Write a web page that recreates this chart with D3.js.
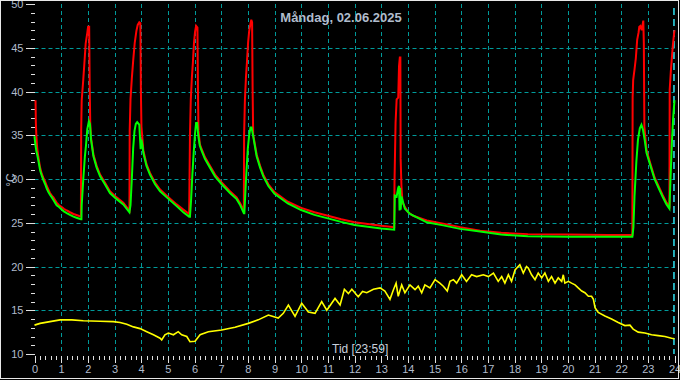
<!DOCTYPE html>
<html><head><meta charset="utf-8">
<script src="https://cdn.jsdelivr.net/npm/d3@7"></script>
<style>
html,body{margin:0;padding:0;background:#000;}
svg{display:block;}
text{font-family:"Liberation Sans",Arial,sans-serif;}
</style></head>
<body>
<svg id="chart" width="680" height="380"></svg>
<script>
// ---- data ----
const titleText = "Måndag, 02.06.2025";
const xAxisTitle = "Tid [23:59]";
const yAxisTitle = "°C";
const hourTicks = d3.range(0, 25);           // 0..24
const tempTicks = [10, 15, 20, 25, 30, 35, 40, 45, 50];
const cursorHour = 23.98;

const redSeries = [
 [0,38.9],[0.04,38.9],[0.05,36.5],[0.07,34.9],[0.1,33.6],[0.14,32.6],[0.21,31.3],[0.27,30.6],[0.33,30.15],[0.4,29.7],[0.46,29.2],[0.52,28.8],[0.58,28.4],[0.65,28.1],[0.71,27.9],[0.77,27.6],[0.83,27.3],[0.92,27.0],[1.02,26.8],[1.1,26.6],[1.21,26.4],[1.33,26.2],[1.46,26.0],[1.6,25.85],[1.74,25.7],
 [1.75,35.5],[1.77,39.0],[1.83,41.4],[1.87,43.2],[1.92,45.5],[1.98,46.7],[2.01,47.4],[2.05,47.4],[2.07,40.5],[2.09,36.4],[2.12,34.7],[2.21,32.8],[2.33,31.5],[2.46,30.5],[2.64,29.6],[2.83,28.6],[3.08,27.9],[3.33,27.3],[3.56,26.4],
 [3.57,35.5],[3.6,39.1],[3.65,41.5],[3.7,43.5],[3.76,45.6],[3.82,46.9],[3.87,47.6],[3.93,47.9],[3.97,47.8],[3.99,40.0],[4.01,36.0],[4.08,33.3],[4.2,31.7],[4.33,30.7],[4.52,29.6],[4.71,28.8],[4.96,28.1],[5.33,27.1],[5.58,26.5],[5.8,26.0],
 [5.83,35.0],[5.86,39.0],[5.9,41.5],[5.94,43.3],[5.98,45.5],[6.02,46.8],[6.06,47.5],[6.11,47.3],[6.13,40.0],[6.15,35.5],[6.2,34.0],[6.27,33.4],[6.39,32.5],[6.58,31.5],[6.77,30.5],[7.02,29.6],[7.33,28.6],[7.58,27.9],[7.7,27.3],[7.85,26.4],
 [7.86,35.0],[7.89,39.0],[7.93,41.6],[7.97,43.5],[8.01,45.6],[8.05,46.9],[8.09,47.6],[8.13,48.2],[8.16,47.9],[8.18,40.0],[8.2,35.1],[8.33,32.8],[8.46,31.5],[8.58,30.5],[8.77,29.4],[9.0,28.5],[9.5,27.4],[10.0,26.7],[10.5,26.2],[11.0,25.8],[11.5,25.4],[12.0,25.05],[12.5,24.85],[13.0,24.65],[13.49,24.5],
 [13.5,29.6],[13.54,36.4],[13.58,39.1],[13.64,39.3],[13.67,42.9],[13.7,43.9],[13.72,43.9],[13.73,32.3],[13.76,29.2],[13.8,27.3],[13.89,26.8],[14.01,26.2],[14.2,25.8],[14.71,25.25],[15.33,24.9],[15.96,24.5],[16.71,24.1],[17.5,23.85],[18.5,23.7],[20.0,23.65],[21.5,23.6],[22.42,23.6],
 [22.43,39.3],[22.45,41.3],[22.5,42.5],[22.55,43.8],[22.6,45.9],[22.65,46.7],[22.68,47.4],[22.72,47.5],[22.77,47.0],[22.83,48.1],[22.85,45.5],[22.87,36.0],[22.95,33.3],[23.1,31.7],[23.25,30.2],[23.4,29.2],[23.55,28.2],[23.7,27.3],[23.81,26.9],
 [23.82,40.2],[23.86,42.2],[23.9,43.8],[23.94,45.3],[23.97,46.2],[24.0,47.0]
];

const greenSeries = [
 [0,34.9],[0.03,34.0],[0.07,33.2],[0.1,32.8],[0.14,32.2],[0.21,31.0],[0.27,30.4],[0.33,29.9],[0.4,29.4],[0.46,28.9],[0.52,28.5],[0.58,28.2],[0.65,27.9],[0.71,27.6],[0.77,27.3],[0.83,27.0],[0.92,26.8],[1.02,26.5],[1.1,26.3],[1.21,26.1],[1.33,25.9],[1.46,25.7],[1.6,25.55],[1.74,25.4],
 [1.76,25.4],[1.77,27.0],[1.83,30.0],[1.89,32.6],[1.93,33.8],[1.98,35.7],[2.04,36.6],[2.08,36.3],[2.12,34.5],[2.21,32.6],[2.33,31.3],[2.46,30.3],[2.64,29.4],[2.83,28.4],[3.08,27.7],[3.33,27.1],[3.56,26.2],
 [3.6,27.0],[3.65,30.0],[3.7,33.5],[3.75,35.5],[3.8,36.3],[3.85,36.5],[3.93,36.2],[3.96,34.5],[3.98,33.4],[4.01,34.5],[4.05,33.8],[4.08,33.0],[4.2,31.5],[4.33,30.5],[4.52,29.4],[4.71,28.6],[4.96,27.9],[5.33,26.9],[5.58,26.2],[5.8,25.7],
 [5.83,25.7],[5.87,27.5],[5.92,30.5],[5.97,33.0],[6.02,35.2],[6.06,36.4],[6.1,36.4],[6.14,35.0],[6.2,33.8],[6.27,33.2],[6.39,32.3],[6.58,31.3],[6.77,30.3],[7.02,29.4],[7.33,28.4],[7.58,27.7],[7.7,27.1],[7.85,26.1],
 [7.87,26.1],[7.9,28.0],[7.95,31.0],[8.0,33.5],[8.05,35.0],[8.1,35.9],[8.14,35.9],[8.2,34.9],[8.33,32.6],[8.46,31.3],[8.58,30.3],[8.77,29.2],[9.0,28.3],[9.5,27.2],[10.0,26.45],[10.5,25.9],[11.0,25.5],[11.5,25.1],[12.0,24.75],[12.5,24.55],[13.0,24.35],[13.49,24.2],
 [13.51,28.1],[13.58,28.0],[13.64,29.0],[13.67,29.2],[13.69,26.4],[13.71,29.0],[13.73,26.5],[13.76,28.0],[13.89,26.6],[14.08,26.0],[14.71,25.05],[15.33,24.7],[15.96,24.3],[16.71,24.0],[17.5,23.65],[18.5,23.45],[20.0,23.4],[21.5,23.4],[22.42,23.4],
 [22.46,24.5],[22.5,28.0],[22.57,32.0],[22.63,34.5],[22.7,35.8],[22.76,36.2],[22.82,35.6],[22.88,34.5],[22.95,33.0],[23.1,31.5],[23.25,30.0],[23.4,29.0],[23.55,28.0],[23.7,27.1],[23.81,26.6],
 [23.85,30.0],[23.9,34.0],[23.95,37.0],[24.0,39.0]
];

const yellowSeries = [
 [0,13.3],[0.21,13.5],[0.58,13.7],[0.96,13.9],[1.4,13.9],[1.83,13.8],[2.46,13.75],[2.96,13.7],[3.21,13.6],[3.46,13.4],[3.71,13.1],[3.96,12.9],[4.21,12.55],[4.46,12.2],[4.71,11.8],[4.77,11.6],[4.89,12.2],[5.02,12.4],[5.21,12.2],[5.39,12.55],[5.52,12.2],[5.71,12.0],[5.83,11.4],[6.02,11.45],[6.21,12.2],[6.52,12.55],[7.02,12.75],[7.52,13.05],[8.02,13.5],[8.39,13.9],[8.77,14.45],[9.14,14.1],[9.33,14.65],[9.52,15.6],[9.77,14.3],[10.02,15.8],[10.27,14.8],[10.52,14.65],[10.77,16.0],[10.96,15.0],[11.27,16.35],[11.46,15.6],[11.62,17.4],[11.77,16.9],[11.9,17.4],[12.14,16.55],[12.3,17.15],[12.46,17.0],[12.71,17.4],[12.96,17.55],[13.14,17.2],[13.33,16.25],[13.46,17.35],[13.56,18.1],[13.64,16.6],[13.77,17.9],[13.89,17.0],[14.08,17.9],[14.27,17.35],[14.39,17.75],[14.52,17.0],[14.64,17.9],[14.83,17.55],[15.02,18.5],[15.2,18.1],[15.33,17.75],[15.48,17.2],[15.58,18.3],[15.71,18.5],[15.83,18.1],[16.02,19.05],[16.2,18.3],[16.39,19.05],[16.58,18.85],[16.83,19.05],[17.02,18.85],[17.21,19.25],[17.39,18.3],[17.52,18.85],[17.64,18.1],[17.77,19.05],[17.89,18.3],[18.02,19.6],[18.2,20.2],[18.33,19.25],[18.45,20.0],[18.52,19.8],[18.64,19.05],[18.77,18.5],[18.89,19.25],[19.02,18.7],[19.14,19.25],[19.27,18.3],[19.39,18.85],[19.52,18.1],[19.64,18.7],[19.77,18.3],[19.83,19.05],[19.89,18.1],[20.02,18.3],[20.14,18.1],[20.27,17.9],[20.39,17.55],[20.52,17.2],[20.64,17.0],[20.77,16.6],[20.89,16.6],[20.96,16.25],[21.02,15.3],[21.14,14.75],[21.39,14.35],[21.64,14.0],[21.89,13.6],[22.14,13.25],[22.33,13.3],[22.45,12.85],[22.64,12.5],[22.89,12.4],[23.14,12.2],[23.39,12.1],[23.64,12.0],[23.89,11.8],[24.0,11.75]
];

// ---- drawing ----
const W = 680, H = 380;
const svg = d3.select("#chart");
const x = d3.scaleLinear().domain([0, 24]).range([34.5, 674.5]);
const y = d3.scaleLinear().domain([10, 50]).range([354, 4]);
const textColor = "#b0bccc";
const gridColor = "#009a9a";

svg.append("rect").attr("width", W).attr("height", H).attr("fill", "#000");

// grid
const grid = svg.append("g");
grid.selectAll("line.h").data(tempTicks.filter(t => t > 10 && t < 50)).join("line")
  .attr("x1", x(0)).attr("x2", x(24))
  .attr("y1", d => Math.round(y(d)) + 0.5).attr("y2", d => Math.round(y(d)) + 0.5)
  .attr("stroke", gridColor).attr("stroke-width", 1).attr("stroke-dasharray", "4,3");
grid.selectAll("line.v").data(hourTicks.filter(h => h > 0 && h < 24)).join("line")
  .attr("y1", y(50)).attr("y2", y(10))
  .attr("x1", d => Math.round(x(d)) + 0.5).attr("x2", d => Math.round(x(d)) + 0.5)
  .attr("stroke", gridColor).attr("stroke-width", 1).attr("stroke-dasharray", "4,3");

// cursor line at 23:59
svg.append("line")
  .attr("x1", x(cursorHour)).attr("x2", x(cursorHour))
  .attr("y1", y(50) + 4).attr("y2", y(10))
  .attr("stroke", "#30e0f0").attr("stroke-width", 1.5).attr("stroke-dasharray", "7,4");

// axes
const yMajor = d3.axisLeft(y).tickValues(tempTicks).tickSize(9).tickPadding(2).tickFormat(d3.format("d"));
const yMinor = d3.axisLeft(y).tickValues(d3.range(10, 51, 1).filter(v => v % 5 !== 0)).tickSize(4).tickFormat("");
const xMajor = d3.axisBottom(x).tickValues(hourTicks).tickSize(7).tickPadding(3).tickFormat(d3.format("d"));
const xMinor = d3.axisBottom(x).tickValues(d3.range(0, 120).map(i => i / 5).filter((v, i) => i % 5 !== 0)).tickSize(4).tickFormat("");

function styleAxis(g) {
  g.select(".domain").remove();
  g.selectAll(".tick line").attr("stroke", "#e0e0e0").attr("shape-rendering", "crispEdges");
  g.selectAll(".tick text").attr("fill", textColor).attr("font-size", 11)
    .attr("font-family", "'Liberation Sans',Arial,sans-serif");
}
svg.append("g").attr("transform", "translate(34.5,0)").call(yMinor).call(styleAxis);
svg.append("g").attr("transform", "translate(34.5,0)").call(yMajor).call(styleAxis);
svg.append("g").attr("transform", "translate(0,355.5)").call(xMinor).call(styleAxis);
svg.append("g").attr("transform", "translate(0,355.5)").call(xMajor).call(styleAxis);

// series
const line = d3.line().x(d => x(d[0])).y(d => y(d[1]));
svg.append("path").datum(redSeries).attr("d", line)
  .attr("fill", "none").attr("stroke", "#ff0000").attr("stroke-width", 2).attr("stroke-linejoin", "miter");
svg.append("path").datum(greenSeries).attr("d", line)
  .attr("fill", "none").attr("stroke", "#00ff00").attr("stroke-width", 2);
svg.append("path").datum(yellowSeries).attr("d", line)
  .attr("fill", "none").attr("stroke", "#ffff00").attr("stroke-width", 1.6);

// texts
svg.append("text").attr("x", 341).attr("y", 21.5).attr("text-anchor", "middle")
  .attr("font-size", 13).attr("font-weight", "bold").attr("fill", textColor).text(titleText);
svg.append("text").attr("x", 332).attr("y", 353).attr("font-size", 12)
  .attr("fill", "#c8d0dc").text(xAxisTitle);
svg.append("text").attr("transform", "translate(15,180) rotate(-90)").attr("text-anchor", "middle")
  .attr("font-size", 12).attr("fill", textColor).text(yAxisTitle);

// frame
svg.append("rect").attr("x", 0.5).attr("y", 0.5).attr("width", 678).attr("height", 378)
  .attr("fill", "none").attr("stroke", "#e8e8e8").attr("stroke-width", 1);
</script>
</body></html>
